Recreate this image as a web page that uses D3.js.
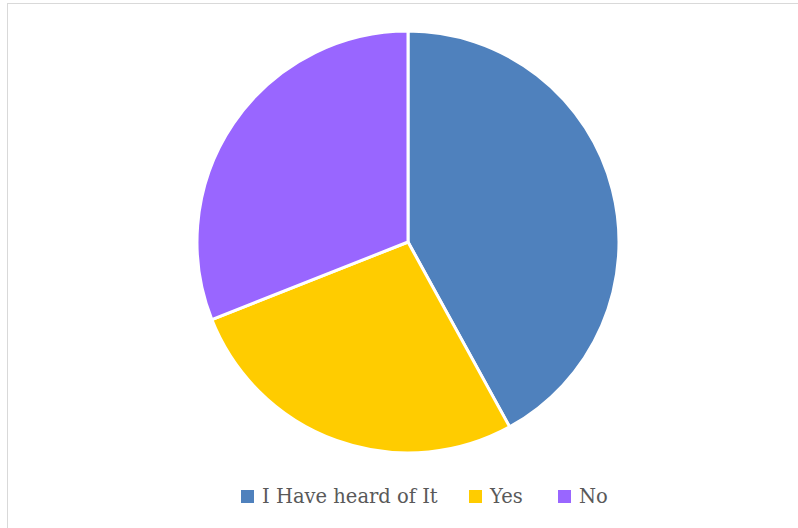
<!DOCTYPE html>
<html><head><meta charset="utf-8">
<script src="https://cdn.jsdelivr.net/npm/d3@7"></script>
<style>body{margin:0;background:#fff;}svg{display:block;}</style>
</head><body>
<svg id="chart" width="798" height="528"></svg>
<script>
const categories = ["I Have heard of It", "Yes", "No"];
const values = [42, 27, 31];
const colors = ["#4f81bd", "#ffcc00", "#9966ff"];

const svg = d3.select("#chart");
// frame
svg.append("rect").attr("x", 7.5).attr("y", 3.5).attr("width", 800).attr("height", 530)
  .attr("fill", "#fff").attr("stroke", "#d9d9d9").attr("stroke-width", 1);

const cx = 408, cy = 242, r = 211;
const pie = d3.pie().sort(null).value(d => d)(values);
const arc = d3.arc().innerRadius(0).outerRadius(r);
svg.append("g").attr("transform", `translate(${cx},${cy})`)
  .selectAll("path").data(pie).join("path")
  .attr("d", arc).attr("fill", (d, i) => colors[i])
  .attr("stroke", "#fff").attr("stroke-width", 3).attr("stroke-linejoin", "round");

// legend
const legendX = [241, 469, 558];
const lg = svg.append("g");
categories.forEach((c, i) => {
  lg.append("rect").attr("x", legendX[i]).attr("y", 490).attr("width", 13).attr("height", 13).attr("fill", colors[i]);
  lg.append("text").attr("x", legendX[i] + 21).attr("y", 503)
    .attr("font-family", "DejaVu Serif, serif").attr("font-size", 19.5)
    .attr("fill", "#595959").text(c);
});
</script>
</body></html>
